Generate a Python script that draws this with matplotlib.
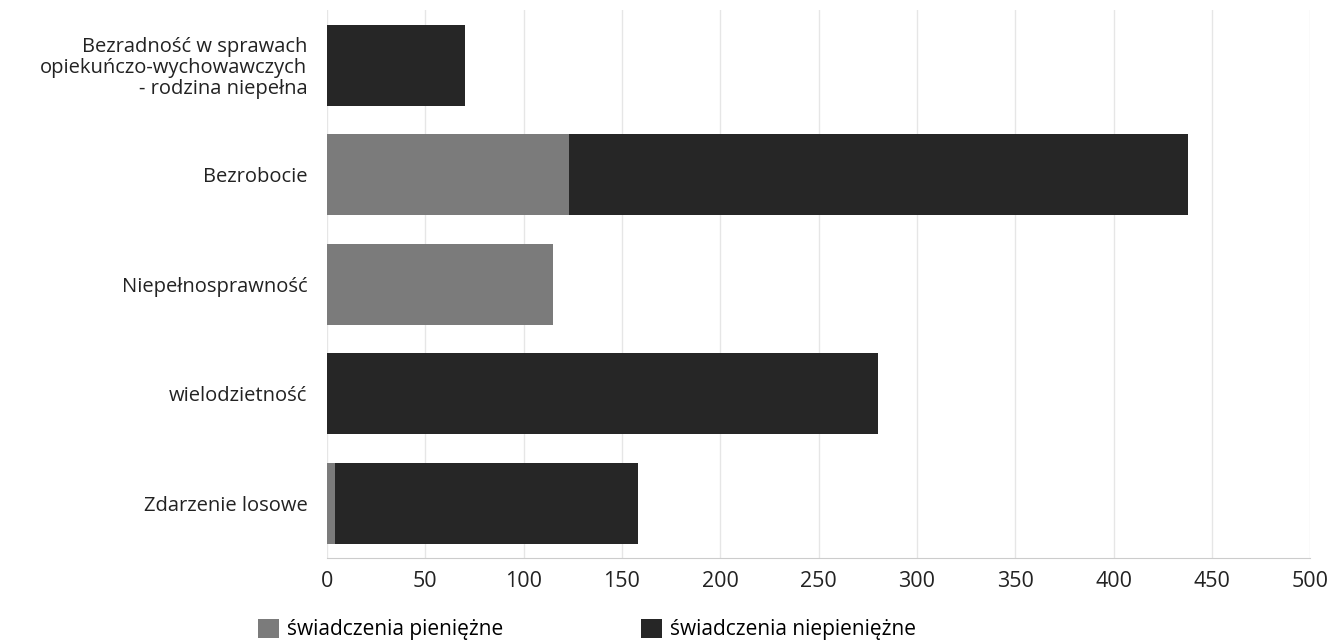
import matplotlib.pyplot as plt
import numpy as np

plt.rcParams['font.family'] = ['Open Sans', 'DejaVu Sans']

categories = ['Bezradność w sprawach\nopiekuńczo-wychowawczych\n- rodzina niepełna',
              'Bezrobocie', 'Niepełnosprawność', 'wielodzietność', 'Zdarzenie losowe']
pieniezne = [0, 123, 115, 0, 4]
niepieniezne = [70, 315, 0, 280, 154]
ticks = [0, 50, 100, 150, 200, 250, 300, 350, 400, 450, 500]

fig = plt.figure(figsize=(13.29, 6.43), dpi=100)
ax = fig.add_axes([0.246, 0.132, 0.74, 0.852])

y = np.arange(len(categories))
ax.barh(y, pieniezne, height=0.74, color='#7b7b7b', label='świadczenia pieniężne')
ax.barh(y, niepieniezne, left=pieniezne, height=0.74, color='#262626',
        label='świadczenia niepieniężne')

ax.set_ylim(len(categories) - 0.5, -0.5)
ax.set_xlim(0, 500)
ax.set_xticks(ticks)
ax.set_yticks(y)
ax.set_yticklabels(categories, fontsize=14.5, color='#222222', linespacing=1.05)
ax.tick_params(axis='x', labelsize=15.5, colors='#222222', length=0, pad=9)
ax.tick_params(axis='y', length=0, pad=14)
ax.grid(axis='x', color='#e6e6e6', lw=1)
ax.set_axisbelow(True)
for s in ['top', 'right', 'left']:
    ax.spines[s].set_visible(False)
ax.spines['bottom'].set_color('#cccccc')

h, l = ax.get_legend_handles_labels()
fig.legend(h, l, loc='lower left', bbox_to_anchor=(0.18, -0.025), ncol=2,
           frameon=False, fontsize=15, handlelength=1.0, handleheight=1.0,
           handletextpad=0.4, columnspacing=6.6)

fig.savefig('out.png', dpi=100)
